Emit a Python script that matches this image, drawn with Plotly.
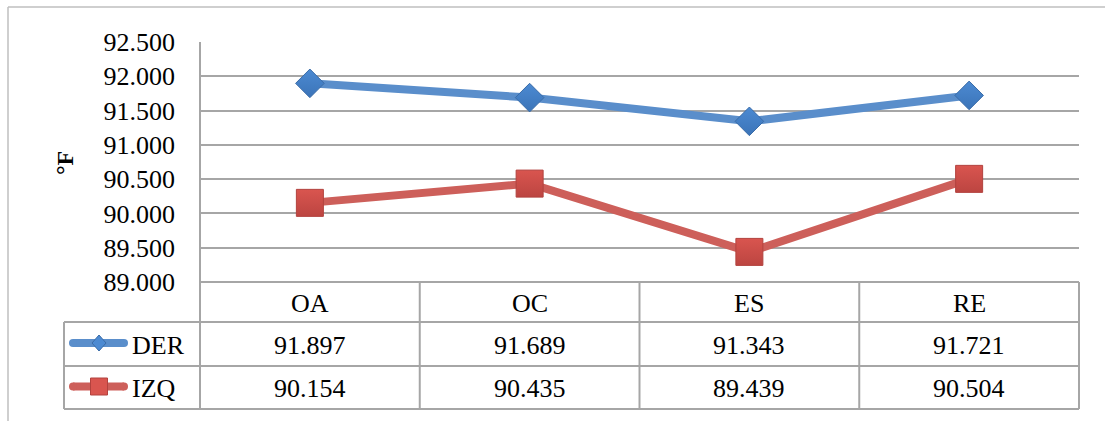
import plotly.graph_objects as go

# Data
categories = ["OA", "OC", "ES", "RE"]
der_values = [91.897, 91.689, 91.343, 91.721]
izq_values = [90.154, 90.435, 89.439, 90.504]
series_names = ["DER", "IZQ"]
y_ticks = [89.0, 89.5, 90.0, 90.5, 91.0, 91.5, 92.0, 92.5]

W, H = 1105, 421
FONT = "Liberation Serif"
GRID = "#A6A6A6"

# Page layout in pixels
PLOT_L, PLOT_R, PLOT_T, PLOT_B = 200, 1079, 42, 282
ROW_HDR, ROW_DER, ROW_IZQ = 322, 366, 409
LEG_L = 64


def px(x):
    return x / W


def py(y):
    return 1 - y / H


BLUE_LINE, BLUE_MK, BLUE_MK2, BLUE_EDGE = "#5A8ECB", "#4C8AD2", "#3B74B8", "#3A6CA8"
RED_LINE, RED_MK, RED_MK2, RED_EDGE = "#CD5F5A", "#D9554F", "#BC4541", "#B2423E"

fig = go.Figure()
xs = list(range(len(categories)))
fig.add_trace(go.Scatter(
    x=xs, y=der_values, mode="lines+markers", name=series_names[0],
    line=dict(color=BLUE_LINE, width=8),
    marker=dict(symbol="diamond", size=22, color=BLUE_MK,
                gradient=dict(type="vertical", color=BLUE_MK2),
                line=dict(color=BLUE_EDGE, width=1)),
    hoverinfo="skip", showlegend=False,
))
fig.add_trace(go.Scatter(
    x=xs, y=izq_values, mode="lines+markers", name=series_names[1],
    line=dict(color=RED_LINE, width=8),
    marker=dict(symbol="square", size=27, color=RED_MK,
                gradient=dict(type="vertical", color=RED_MK2),
                line=dict(color=RED_EDGE, width=1)),
    hoverinfo="skip", showlegend=False,
))

shapes = []


def hline(y, x0, x1, color=GRID, width=2):
    shapes.append(dict(type="line", xref="paper", yref="paper",
                       x0=px(x0), x1=px(x1), y0=py(y), y1=py(y),
                       line=dict(color=color, width=width)))


def vline(x, y0, y1, color=GRID, width=2):
    shapes.append(dict(type="line", xref="paper", yref="paper",
                       x0=px(x), x1=px(x), y0=py(y0), y1=py(y1),
                       line=dict(color=color, width=width)))


# Outer chart frame (runs off the right and bottom edges)
hline(7, 8, W, color="#BFBFBF", width=1.5)
vline(8, 7, H, color="#BFBFBF", width=1.5)

# Plot area left edge and data table grid
vline(PLOT_L, PLOT_T, ROW_IZQ)
hline(PLOT_B, PLOT_L, PLOT_R)
for yy in (ROW_HDR, ROW_DER, ROW_IZQ):
    hline(yy, LEG_L, PLOT_R)
vline(LEG_L, ROW_HDR, ROW_IZQ)
col_w = (PLOT_R - PLOT_L) / len(categories)
for i in range(1, len(categories) + 1):
    vline(PLOT_L + i * col_w, PLOT_B, ROW_IZQ)

annotations = []


def text(x, y, s, size=26, xanchor="center", bold=False, angle=0):
    annotations.append(dict(
        x=px(x), y=py(y), xref="paper", yref="paper", text=f"<b>{s}</b>" if bold else s,
        showarrow=False, xanchor=xanchor, yanchor="middle", textangle=angle,
        font=dict(family=FONT, size=size, color="black")))


# Column headers and values
rows = [(series_names[0], der_values, (ROW_HDR + ROW_DER) / 2),
        (series_names[1], izq_values, (ROW_DER + ROW_IZQ) / 2)]
for i, cat in enumerate(categories):
    cx = PLOT_L + (i + 0.5) * col_w
    text(cx, (PLOT_B + ROW_HDR) / 2 + 1, cat)
    for _, vals, ry in rows:
        text(cx, ry + 1, f"{vals[i]:.3f}")

# Legend keys inside the table
for (name, _, ry), lc, mc, ec, sym in [
    (rows[0], BLUE_LINE, BLUE_MK, BLUE_EDGE, "diamond"),
    (rows[1], RED_LINE, RED_MK, RED_EDGE, "square"),
]:
    ky = ry - 1
    shapes.append(dict(type="line", xref="paper", yref="paper",
                       x0=px(73), x1=px(124), y0=py(ky), y1=py(ky),
                       line=dict(color=lc, width=8)))
    for cxp in (73, 124):  # rounded line ends
        shapes.append(dict(type="circle", xref="paper", yref="paper",
                           x0=px(cxp - 4), x1=px(cxp + 4), y0=py(ky - 4), y1=py(ky + 4),
                           fillcolor=lc, line=dict(width=0)))
    if sym == "diamond":
        rx, ry_ = 7, 8
        path = (f"M {px(99)},{py(ky - ry_)} L {px(99 + rx)},{py(ky)} "
                f"L {px(99)},{py(ky + ry_)} L {px(99 - rx)},{py(ky)} Z")
        shapes.append(dict(type="path", xref="paper", yref="paper", path=path,
                           fillcolor=mc, line=dict(color=ec, width=1)))
    else:
        r = 8.5
        shapes.append(dict(type="rect", xref="paper", yref="paper",
                           x0=px(99 - r), x1=px(99 + r), y0=py(ky - r), y1=py(ky + r),
                           fillcolor=mc, line=dict(color=ec, width=1)))
    text(130, ry + 1, name, xanchor="left")

# Axis title
text(65, 163, "°F", size=24, bold=True, angle=-90)

fig.update_layout(
    width=W, height=H,
    margin=dict(l=0, r=0, t=0, b=0, autoexpand=False),
    paper_bgcolor="white", plot_bgcolor="white",
    shapes=shapes, annotations=annotations,
    xaxis=dict(domain=[px(PLOT_L), px(PLOT_R)], range=[-0.5, len(categories) - 0.5],
               showgrid=False, zeroline=False, showticklabels=False, showline=False,
               automargin=False, fixedrange=True),
    yaxis=dict(domain=[py(PLOT_B), py(PLOT_T)], range=[89.0, 92.5],
               tickvals=y_ticks, tickformat=".3f", showgrid=True,
               gridcolor=GRID, gridwidth=2, zeroline=False, showline=False,
               ticks="", ticklabelstandoff=24, automargin=False,
               tickfont=dict(family=FONT, size=26, color="black"),
               fixedrange=True),
)

fig.write_html("out.html", config={"displayModeBar": False})
